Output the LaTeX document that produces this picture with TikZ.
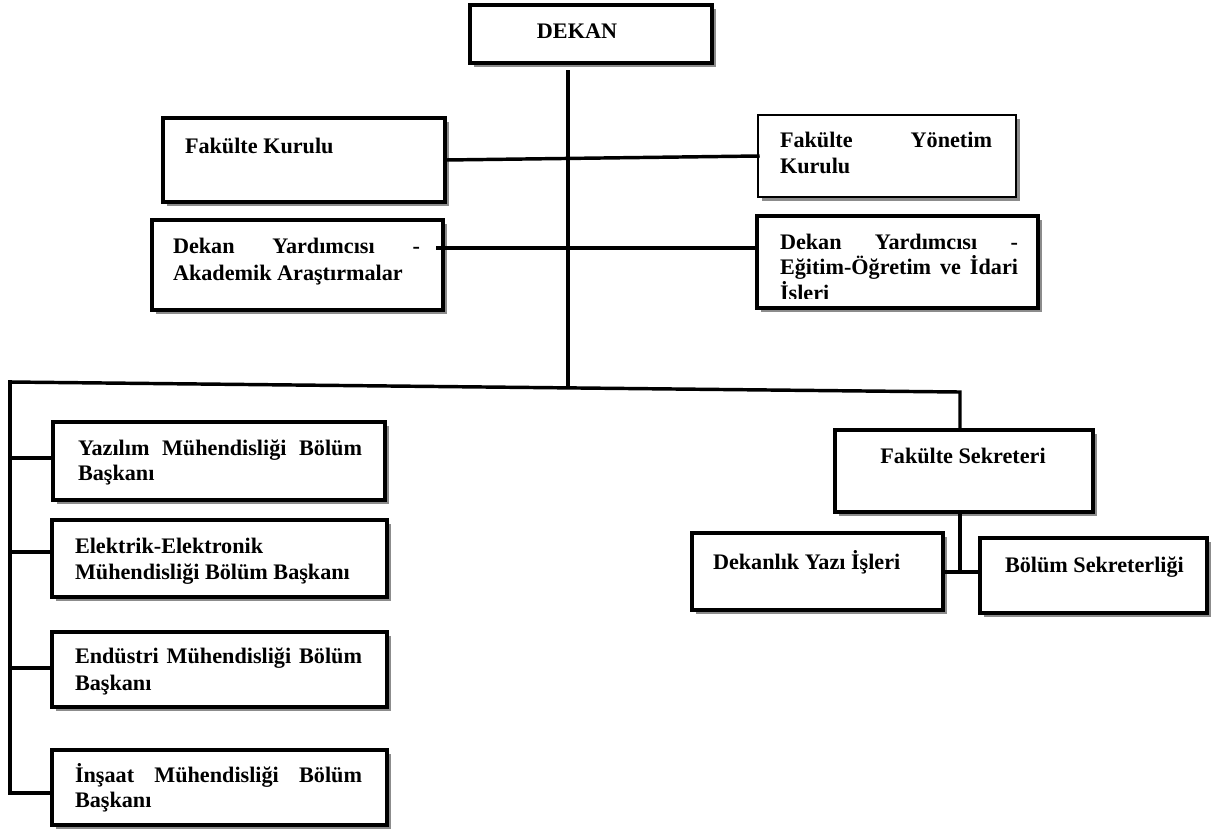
\documentclass[tikz,border=0pt]{standalone}
\usepackage{fontspec}
\setmainfont{Liberation Serif}
\usetikzlibrary{shadows}
\newcommand{\jline}[2]{\makebox[#1][s]{#2}}
\begin{document}
\begin{tikzpicture}[x=0.55pt,y=-0.55pt,
  box/.style={draw=black, line width=2.4pt, fill=white, rectangle, inner sep=0pt, outer sep=0pt,
    drop shadow={shadow xshift=2.4pt, shadow yshift=-2.4pt, fill=black!45, opacity=1}},
  txt/.style={inner sep=0pt, outer sep=0pt, anchor=base west, font=\fontsize{12.2}{14}\selectfont\bfseries},
  conn/.style={line width=1.9pt, line cap=rect}]
\useasboundingbox (0,0) rectangle (1212,830);

% boxes
\node[box, minimum width=133.1pt, minimum height=31.9pt] (dekan) at (591,34) {};
\node[box, minimum width=155.1pt, minimum height=46.2pt] (fk) at (304,160) {};
\node[box, line width=1.6pt, minimum width=141.9pt, minimum height=45.1pt] (fyk) at (887,156) {};
\node[box, minimum width=160.05pt, minimum height=49.5pt] (dya) at (297.5,265) {};
\node[box, line width=2pt, minimum width=154.55pt, minimum height=50.6pt] (dye) at (897.5,262) {};
\node[box, minimum width=182.6pt, minimum height=42.9pt] (yaz) at (219,461) {};
\node[box, minimum width=184.25pt, minimum height=42.35pt] (ele) at (219.5,558.5) {};
\node[box, minimum width=184.25pt, minimum height=41.25pt] (end) at (219.5,669.5) {};
\node[box, minimum width=184.25pt, minimum height=41.25pt] (ins) at (219.5,787.5) {};
\node[box, minimum width=141.9pt, minimum height=45.1pt] (fs) at (964,471) {};
\node[box, minimum width=138.05pt, minimum height=42.35pt] (dyi) at (817.5,571.5) {};
\node[box, minimum width=124.85pt, minimum height=41.25pt] (bs) at (1093.5,575.5) {};

% connector points
\coordinate (vtop) at (568,72);
\coordinate (busM) at (568,386);
\coordinate (busL) at (10,382);
\coordinate (busR) at (960,392);
\coordinate (b1) at (10,458);
\coordinate (b2) at (10,552);
\coordinate (b3) at (10,668);
\coordinate (b4) at (10,793);
\coordinate (jn) at (960,572);

% connectors
\draw[conn] (vtop) -- (busM);
\draw[conn] (fk.east) -- (fyk.west);
\draw[conn] ([xshift=-2.75pt,yshift=9.35pt]dya.east) -- ([yshift=7.7pt]dye.west);
\draw[conn] (busL) -- (busR) -- (busR |- fs.north);
\draw[conn] (busL) -- (b4) -- (b4 -| ins.west);
\draw[conn] (b1) -- (b1 -| yaz.west);
\draw[conn] (b2) -- (b2 -| ele.west);
\draw[conn] (b3) -- (b3 -| end.west);
\draw[conn] (fs.south -| jn) -- (jn);
\draw[conn] (dyi.east |- jn) -- (jn -| bs.west);

% texts
\node[txt, anchor=base] (t-dekan) at (577,38) {DEKAN};
\node[txt] (t-fk) at (185,153) {Fakülte Kurulu};
\node[txt] (t-fyk1) at (780,147) {\jline{116.6pt}{Fakülte Yönetim}};
\node[txt] (t-fyk2) at (780,173) {Kurulu};
\node[txt] (t-dya1) at (173,253) {\jline{135.85pt}{Dekan Yardımcısı -}};
\node[txt] (t-dya2) at (173,280) {Akademik Araştırmalar};
\node[txt] (t-dye1) at (780,249) {\jline{130.9pt}{Dekan Yardımcısı -}};
\node[txt] (t-dye2) at (780,274) {\jline{130.9pt}{Eğitim-Öğretim ve İdari}};
\begin{scope}
  \clip (760,280) rectangle (1035,298.5);
  \node[txt] (t-dye3) at (780,300) {İşleri};
\end{scope}
\node[txt] (t-yaz1) at (78,455) {\jline{156.2pt}{Yazılım Mühendisliği Bölüm}};
\node[txt] (t-yaz2) at (78,480) {Başkanı};
\node[txt] (t-ele1) at (75,553) {Elektrik-Elektronik};
\node[txt] (t-ele2) at (75,579) {Mühendisliği Bölüm Başkanı};
\node[txt] (t-end1) at (75,663) {\jline{157.85pt}{Endüstri Mühendisliği Bölüm}};
\node[txt] (t-end2) at (75,690) {Başkanı};
\node[txt] (t-ins1) at (75,782) {\jline{157.85pt}{İnşaat Mühendisliği Bölüm}};
\node[txt] (t-ins2) at (75,807) {Başkanı};
\node[txt, anchor=base] (t-fs) at (963,463) {Fakülte Sekreteri};
\node[txt] (t-dyi) at (713,569) {Dekanlık Yazı İşleri};
\node[txt] (t-bs) at (1005,572) {Bölüm Sekreterliği};
\end{tikzpicture}
\end{document}
